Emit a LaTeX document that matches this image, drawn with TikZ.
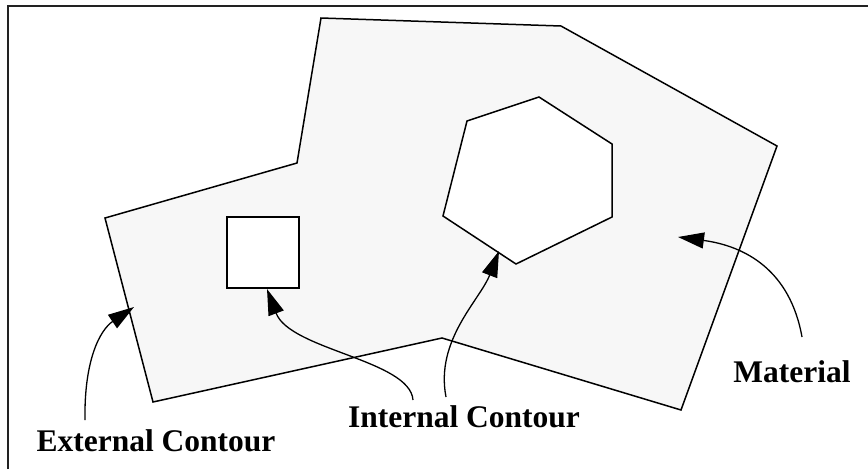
\documentclass[tikz,border=0pt]{standalone}
\usepackage{fontspec}
\setmainfont{Liberation Serif}
\usetikzlibrary{arrows.meta}
\definecolor{matfill}{RGB}{247,247,247}
\definecolor{framecol}{RGB}{34,34,34}
\begin{document}
\begin{tikzpicture}[x=1pt,y=-1pt,
  contour/.style={draw=black,line width=1.5pt,line join=miter},
  pointer/.style={draw=black,line width=1.3pt,-{Triangle[length=26pt,width=16pt]}},
  label/.style={inner sep=0pt,anchor=base,font=\fontsize{31.5}{36}\selectfont\bfseries}]
\useasboundingbox (0,0) rectangle (868,469);
% frame edges
\draw[framecol,line width=2pt] (8,469) -- (8,6) -- (868,6);
% material with its external contour
\path[contour,fill=matfill] (321,18) -- (561,26) -- (777,146) -- (681,410)
  -- (442,338) -- (153,402) -- (105,218) -- (297,163) -- cycle;
% internal contours (holes)
\path[contour,fill=white] (227,217) rectangle (299,288);
\path[contour,fill=white] (539,97) -- (612,144) -- (612,217) -- (516,264)
  -- (443,216) -- (467,121) -- cycle;
% labels
\node[label] (ext) at (156,451) {External Contour};
\node[label] (int) at (464,427) {Internal Contour};
\node[label] (mat) at (792,382) {Material};
% arrow ends
\coordinate (extS) at (85,420);
\coordinate (extT) at (134,307);
\coordinate (sqS) at (413,400);
\coordinate (sqT) at (267,289);
\coordinate (hxS) at (446,397);
\coordinate (hxT) at (499,251);
\coordinate (matS) at (802,337);
\coordinate (matT) at (678,237);
% pointers
\draw[pointer] (extS) .. controls (84,360) and (100,330) .. (extT);
\draw[pointer] (sqS) .. controls (410,360) and (290,350) .. (sqT);
\draw[pointer] (hxS) .. controls (435,340) and (480,300) .. (hxT);
\draw[pointer] (matS) .. controls (790,270) and (745,246) .. (matT);
\end{tikzpicture}
\end{document}
